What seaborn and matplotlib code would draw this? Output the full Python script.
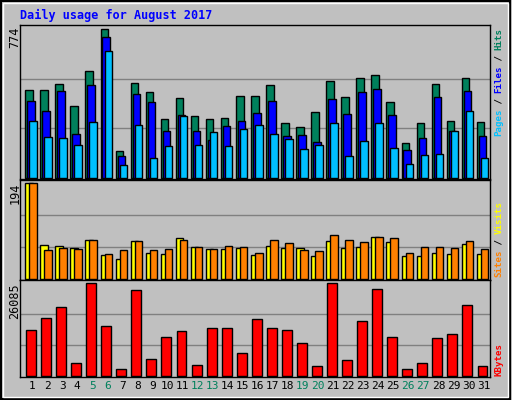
import numpy as np
import matplotlib
matplotlib.use("Agg")
import matplotlib.pyplot as plt
import seaborn as sns

# values
days = list(range(1, 32))
hits = [459, 459, 490, 375, 555, 774, 138, 496, 448, 306, 417, 322, 306, 312, 427, 427,
        485, 285, 264, 343, 506, 422, 522, 538, 396, 180, 285, 490, 296, 522, 291]
files = [401, 348, 454, 228, 485, 737, 112, 438, 396, 243, 327, 243, 196, 270, 296, 338,
         401, 217, 222, 186, 411, 333, 448, 464, 327, 144, 207, 422, 243, 454, 217]
pages = [296, 212, 207, 170, 291, 664, 65, 275, 102, 165, 322, 170, 238, 165, 254, 275,
         228, 201, 149, 170, 285, 112, 191, 285, 154, 70, 117, 123, 243, 348, 102]
visits = [194, 68, 66, 62, 79, 49, 41, 77, 53, 51, 83, 64, 60, 60, 62, 49,
          66, 62, 62, 47, 77, 62, 64, 85, 75, 47, 47, 53, 51, 70, 51]
sites = [194, 58, 62, 60, 79, 51, 58, 77, 58, 60, 79, 64, 60, 66, 64, 53,
         79, 72, 58, 56, 89, 79, 75, 85, 83, 53, 64, 64, 62, 77, 60]
kbytes = [12947, 16374, 19230, 3808, 26085, 14090, 2094, 24086, 4665, 10948, 12662, 3237,
          13518, 13518, 6378, 16089, 13518, 12947, 9234, 2951, 26085, 4379, 15518, 24371,
          10948, 2094, 3808, 10662, 11805, 19802, 2951]
weekends = [5, 6, 12, 13, 19, 20, 26, 27]

BG = "#c0c0c0"
sns.set_style("white", {"axes.facecolor": BG, "figure.facecolor": BG})
plt.rcParams["font.family"] = ["DejaVu Sans Mono", "DejaVu Sans"]

fig = plt.figure(figsize=(5.12, 4.0), dpi=100)
fig.patch.set_facecolor(BG)

x = np.array(days, dtype=float)
xl = (0.648, 31.88)


def panel(rect, ymax, series, label, label_y):
    ax = fig.add_axes(rect)
    ax.set_facecolor(BG)
    ax.set_xlim(*xl)
    ax.set_ylim(-ymax * 0.009, ymax * 1.03)
    for g in (ymax / 3, ymax * 2 / 3):
        ax.axhline(g, color="#808080", lw=1, zorder=0)
    for k, (vals, col, w, off) in enumerate(series):
        ax.bar(x + off, vals, width=w, align="edge",
               color=col, edgecolor="black", lw=1, zorder=2 + k)
    ax.set_xticks([])
    ax.set_yticks([])
    for s in ax.spines.values():
        s.set_color("black")
        s.set_linewidth(1)
    fig.text(15 / 512, 1 - label_y / 400, label, rotation=90, ha="center", va="top",
             fontsize=8.5, color="black")
    return ax


ax1 = panel([20 / 512, 1 - 179 / 400, 470 / 512, 154 / 400], 774,
            [(hits, "#00805c", 0.5, 0.0), (files, "#0000ff", 0.5, 0.13),
             (pages, "#00c0ff", 0.5, 0.265)], "774", 27)
ax2 = panel([20 / 512, 1 - 280 / 400, 470 / 512, 100 / 400], 194,
            [(visits, "#ffff00", 0.5, 0.0), (sites, "#ff8000", 0.5, 0.265)], "194", 183)
ax3 = panel([20 / 512, 1 - 377 / 400, 470 / 512, 97 / 400], 26085,
            [(kbytes, "#ff0000", 0.66, 0.05)], "26085", 283)

ax3.set_xticks(x + 0.45)
ax3.set_xticklabels([str(d) for d in days], fontsize=8)
ax3.tick_params(axis="x", length=0, pad=3)
for t, d in zip(ax3.get_xticklabels(), days):
    t.set_color("#00805c" if d in weekends else "black")


def side_label(parts, y_bottom, step=5.4):
    pos = 0
    for txt, col in parts:
        if txt.strip():
            fig.text(499 / 512, 1 - (y_bottom - step * pos) / 400, txt, rotation=90,
                     ha="center", va="bottom", fontsize=6.6, color=col, fontweight="bold")
        pos += len(txt)


side_label([("Pages", "#00c0ff"), (" / ", "black"), ("Files", "#0000ff"),
            (" / ", "black"), ("Hits", "#00805c")], 136)
side_label([("Sites", "#ff8000"), (" / ", "black"), ("Visits", "#ffff00")], 277)
side_label([("KBytes", "#ff0000")], 376)

fig.text(20 / 512, 1 - 15 / 400, "Daily usage for August 2017", color="#0000ff",
         fontsize=8.5, fontweight="bold", ha="left", va="center")

# outer frame
fig.patches.append(plt.Rectangle((0.002, 0.003), 0.995, 0.994, transform=fig.transFigure,
                                 fill=False, edgecolor="black", lw=1.5))
fig.patches.append(plt.Rectangle((0.006, 0.008), 0.987, 0.985, transform=fig.transFigure,
                                 fill=False, edgecolor="white", lw=1))

fig.savefig("out.png", dpi=100, facecolor=BG)
